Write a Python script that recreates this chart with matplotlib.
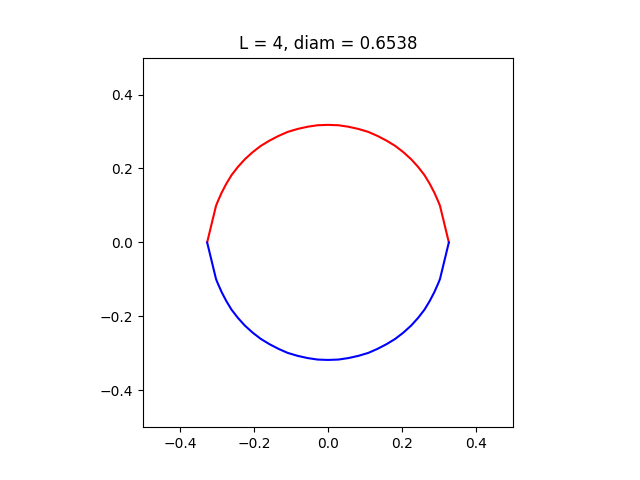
import matplotlib
matplotlib.use("Agg")
import matplotlib.pyplot as plt

# upper half of the curve
x_top = [-0.327, -0.303, -0.299, -0.288, -0.275, -0.261, -0.244, -0.225, -0.204,
         -0.182, -0.159, -0.134, -0.109, -0.082, -0.055, -0.028, 0.0,
         0.028, 0.055, 0.082, 0.109, 0.134, 0.159, 0.182, 0.204,
         0.225, 0.244, 0.261, 0.275, 0.288, 0.299, 0.303, 0.327]
y_top = [0.0, 0.099, 0.109, 0.134, 0.159, 0.182, 0.204, 0.225, 0.244,
         0.261, 0.275, 0.288, 0.299, 0.307, 0.313, 0.317, 0.318,
         0.317, 0.313, 0.307, 0.299, 0.288, 0.275, 0.261, 0.244,
         0.225, 0.204, 0.182, 0.159, 0.134, 0.109, 0.099, 0.0]

# lower half
x_bot = [-0.327, -0.303, -0.299, -0.288, -0.275, -0.261, -0.244, -0.225, -0.204,
         -0.182, -0.159, -0.134, -0.109, -0.082, -0.055, -0.028, 0.0,
         0.028, 0.055, 0.082, 0.109, 0.134, 0.159, 0.182, 0.204,
         0.225, 0.244, 0.261, 0.275, 0.288, 0.299, 0.303, 0.327]
y_bot = [0.0, -0.099, -0.109, -0.134, -0.159, -0.182, -0.204, -0.225, -0.244,
         -0.261, -0.275, -0.288, -0.299, -0.307, -0.313, -0.317, -0.318,
         -0.317, -0.313, -0.307, -0.299, -0.288, -0.275, -0.261, -0.244,
         -0.225, -0.204, -0.182, -0.159, -0.134, -0.109, -0.099, 0.0]

L = 4
diam = 0.6538

fig, ax = plt.subplots(figsize=(6.4, 4.8), dpi=100)
ax.plot(x_top, y_top, color="red")
ax.plot(x_bot, y_bot, color="blue")
ax.set_xlim(-0.5, 0.5)
ax.set_ylim(-0.5, 0.5)
ax.set_aspect("equal")
ax.set_title(f"L = {L}, diam = {diam}")
plt.savefig("out.png")
